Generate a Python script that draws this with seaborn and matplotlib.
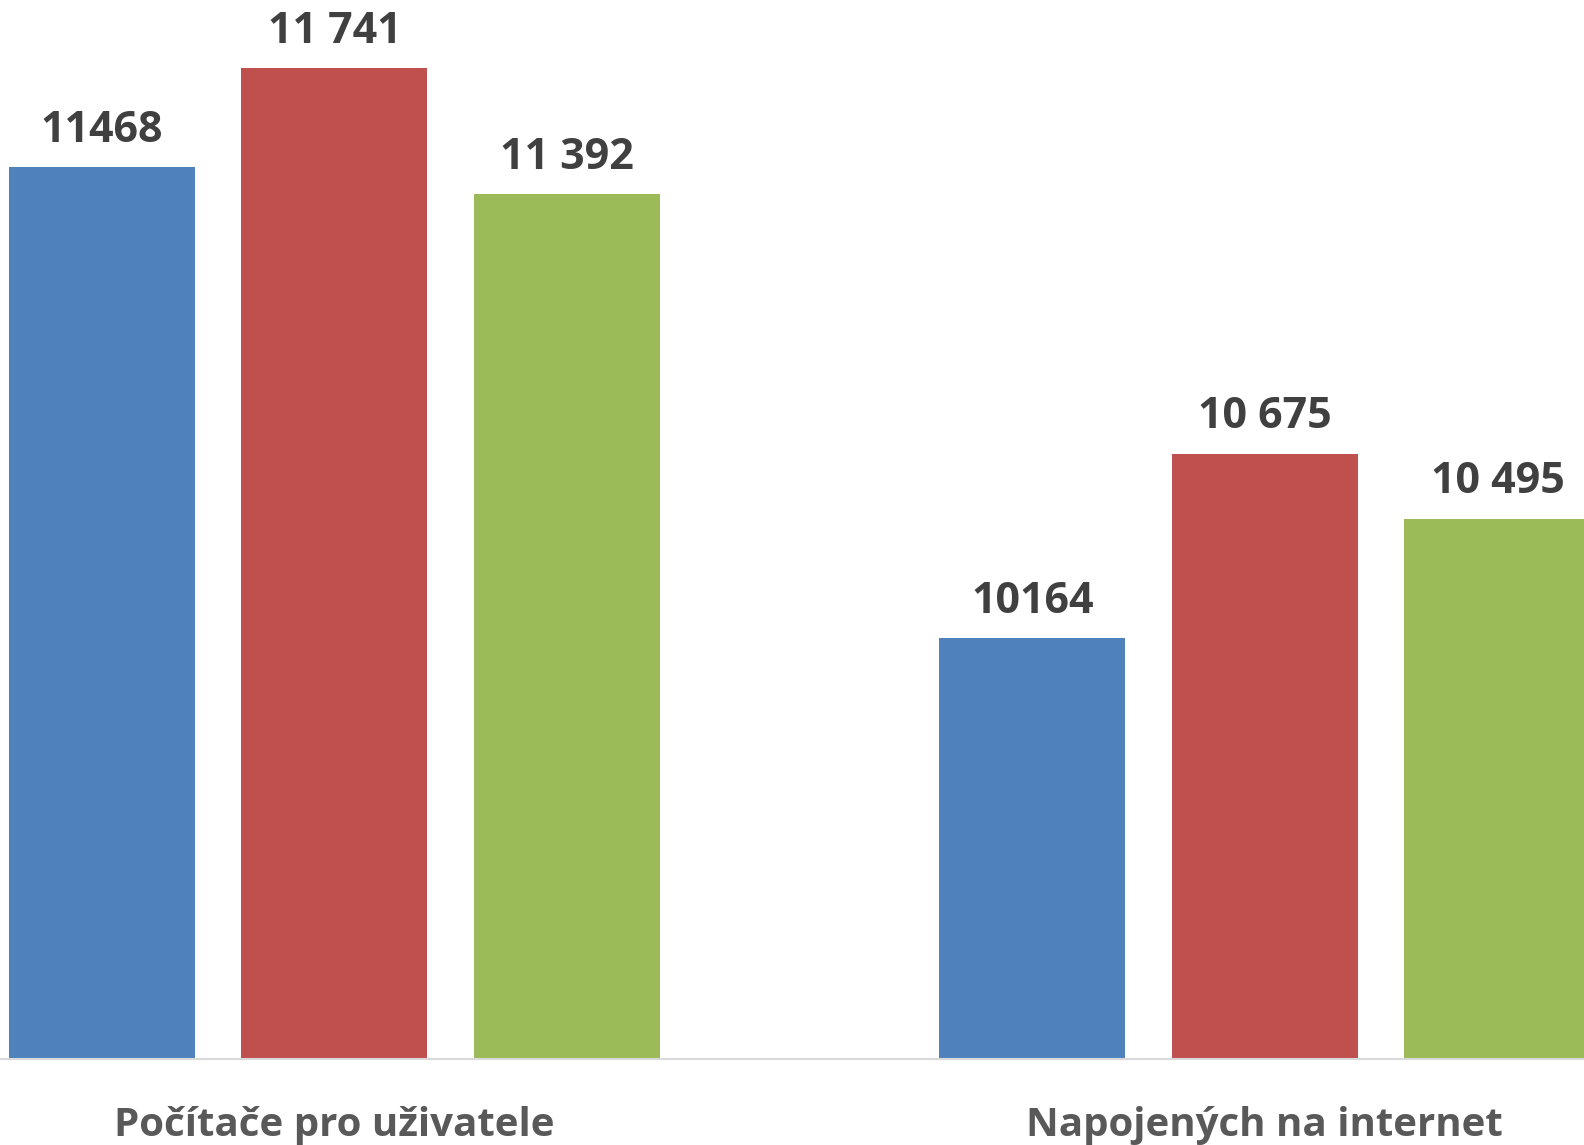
import matplotlib
matplotlib.use("Agg")
import matplotlib.pyplot as plt
import seaborn as sns
import pandas as pd

categories = ["Počítače pro uživatele", "Napojených na internet"]
series_names = ["Řada 1", "Řada 2", "Řada 3"]
values_s1 = [11468, 10164]
values_s2 = [11741, 10675]
values_s3 = [11392, 10495]
labels_s1 = ["11468", "10164"]
labels_s2 = ["11 741", "10 675"]
labels_s3 = ["11 392", "10 495"]
colors = ["#4F81BD", "#C0504D", "#9BBB59"]

rows = []
for name, vals in zip(series_names, [values_s1, values_s2, values_s3]):
    for c, v in zip(categories, vals):
        rows.append({"kategorie": c, "řada": name, "hodnota": v})
df = pd.DataFrame(rows)

sns.set_theme(style="white")
plt.rcParams['font.family'] = ['Open Sans', 'DejaVu Sans']

fig = plt.figure(figsize=(15.84, 11.45), dpi=100)
ax = fig.add_axes([0, 1 - 1059 / 1145, 1, 1059 / 1145])

sns.barplot(data=df, x="kategorie", y="hodnota", hue="řada", order=categories,
            hue_order=series_names, palette=colors, width=0.75, gap=0.2,
            saturation=1, legend=False, ax=ax, linewidth=0)

ax.set_ylim(9000, 11930)
ax.set_xlim(-0.3594, 1.343)

all_labels = [labels_s1, labels_s2, labels_s3]
for cont, labs in zip(ax.containers, all_labels):
    ax.bar_label(cont, labels=labs, padding=11, fontsize=31, fontweight='bold',
                 color='#404040', clip_on=False)

ax.set_xlabel("")
ax.set_ylabel("")
ax.set_yticks([])
ax.tick_params(axis='x', length=0, pad=34)
for lab in ax.get_xticklabels():
    lab.set_fontsize(29)
    lab.set_fontweight('bold')
    lab.set_color('#595959')
for s in ["top", "left", "right"]:
    ax.spines[s].set_visible(False)
ax.spines["bottom"].set_color("#D9D9D9")
ax.spines["bottom"].set_linewidth(1.5)

fig.savefig("out.png", dpi=100)
